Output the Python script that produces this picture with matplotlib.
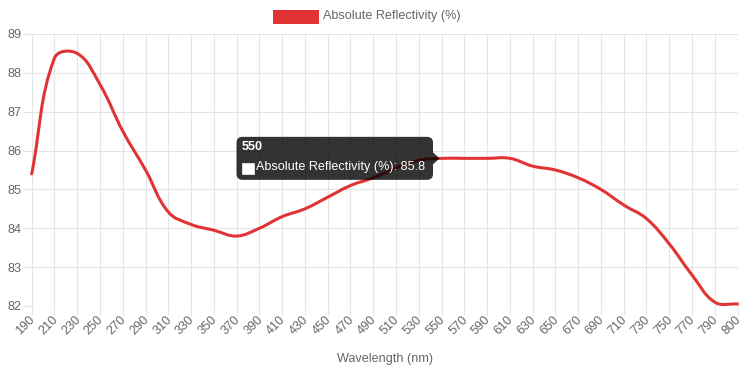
import matplotlib
matplotlib.use('Agg')
import matplotlib.pyplot as plt
import numpy as np
from matplotlib.path import Path
from matplotlib.patches import PathPatch, FancyBboxPatch, Rectangle, Polygon
import matplotlib.transforms as mtransforms

plt.rcParams['font.family'] = ['Liberation Sans', 'DejaVu Sans']

# ---- data ----
wavelength_labels = ['190', '210', '230', '250', '270', '290', '310', '330', '350', '370',
                     '390', '410', '430', '450', '470', '490', '510', '530', '550', '570',
                     '590', '610', '630', '650', '670', '690', '710', '730', '750', '770',
                     '790', '800']
reflectivity = [85.4, 88.38, 88.5, 87.7, 86.5, 85.5, 84.42, 84.1, 83.95, 83.8,
                84.0, 84.3, 84.5, 84.8, 85.1, 85.3, 85.55, 85.75, 85.8, 85.8,
                85.8, 85.8, 85.6, 85.5, 85.3, 85.0, 84.6, 84.25, 83.6, 82.8,
                82.1, 82.05]
series_label = 'Absolute Reflectivity (%)'
y_ticks = [82, 83, 84, 85, 86, 87, 88, 89]
x_title = 'Wavelength (nm)'
tooltip_label = '550'

LINE_COLOR = '#e03434'
GRID = '#e5e5e5'
TXT = '#666666'
FS = 9.1

W, H = 745, 372
fig = plt.figure(figsize=(W / 100, H / 100), dpi=100)
left, right, top, bottom = 31.7, 737.5, 34.0, 306.0
ax = fig.add_axes([left / W, 1 - bottom / H, (right - left) / W, (bottom - top) / H])

n = len(reflectivity)
xs = np.arange(n)
ax.set_xlim(0, n - 1)
ax.set_ylim(y_ticks[0], y_ticks[-1])
ax.set_xticks(xs)
ax.set_xticklabels(wavelength_labels, rotation=45, ha='right', va='center',
                   rotation_mode='anchor', fontsize=FS, color=TXT)
ax.set_yticks(y_ticks)
ax.set_yticklabels([str(v) for v in y_ticks], fontsize=FS, color=TXT)
ax.tick_params(axis='both', length=6.5, width=0.8, color=GRID, direction='out')
ax.tick_params(axis='y', pad=1.0)
ax.tick_params(axis='x', pad=2.0)
offset = mtransforms.ScaledTranslation(1.5 / 100, 0, fig.dpi_scale_trans)
for lab in ax.get_xticklabels():
    lab.set_transform(lab.get_transform() + offset)
ax.grid(True, color=GRID, linewidth=0.8)
for s in ax.spines.values():
    s.set_visible(False)
ax.set_axisbelow(True)

# ---- Chart.js-like spline (tension 0.4) computed in pixel space ----
pts = ax.transData.transform(np.column_stack([xs, reflectivity]))
t = 0.4
cp_prev = np.zeros_like(pts)
cp_next = np.zeros_like(pts)
for i in range(n):
    cur = pts[i]
    prev = pts[i - 1] if i > 0 else cur
    nxt = pts[i + 1] if i < n - 1 else cur
    d01 = np.hypot(*(cur - prev))
    d12 = np.hypot(*(nxt - cur))
    tot = d01 + d12
    s01 = d01 / tot if tot else 0
    s12 = d12 / tot if tot else 0
    cp_prev[i] = cur - t * s01 * (nxt - prev)
    cp_next[i] = cur + t * s12 * (nxt - prev)
verts = [pts[0]]
codes = [Path.MOVETO]
for i in range(n - 1):
    verts += [cp_next[i], cp_prev[i + 1], pts[i + 1]]
    codes += [Path.CURVE4] * 3
verts = ax.transData.inverted().transform(np.array(verts))
ax.add_patch(PathPatch(Path(verts, codes), facecolor='none', edgecolor=LINE_COLOR,
                       linewidth=2.2, capstyle='round', joinstyle='round',
                       clip_on=False, zorder=3))

ident = mtransforms.IdentityTransform()

# ---- legend ----
fig.patches.append(Rectangle((272.5, H - 24), 46, 14.5, facecolor=LINE_COLOR,
                             edgecolor='none', transform=ident, figure=fig))
fig.text(323 / W, 1 - 16.5 / H, series_label, fontsize=FS, color=TXT,
         ha='left', va='center')

# ---- axis title ----
fig.text((left + right) / 2 / W, 1 - 359 / H, x_title, fontsize=FS, color=TXT,
         ha='center', va='center')

# ---- tooltip ----
ti = wavelength_labels.index(tooltip_label)
tv = reflectivity[ti]
px, py = ax.transData.transform((ti, tv))
bright = px - 8.5
bwidth = 196.5
bh = 43.0
bleft = bright - bwidth
btop = py + bh / 2
tip = FancyBboxPatch((bleft, py - bh / 2), bwidth, bh,
                     boxstyle='round,pad=0,rounding_size=6',
                     facecolor=(0, 0, 0, 0.8), edgecolor='none',
                     transform=ident, figure=fig, zorder=10)
fig.patches.append(tip)
fig.patches.append(Polygon([[bright, py + 6], [px - 2, py], [bright, py - 6]],
                           closed=True, facecolor=(0, 0, 0, 0.8), edgecolor='none',
                           transform=ident, figure=fig, zorder=10))
fig.text((bleft + 5) / W, (btop - 10.5) / H, tooltip_label, fontsize=FS,
         fontweight='bold', color='white', ha='left', va='center', zorder=11)
fig.patches.append(Rectangle((bleft + 5.8, btop - 37.3), 11.5, 11.5, facecolor='white',
                             edgecolor='#dddddd', linewidth=0.7, transform=ident,
                             figure=fig, zorder=11))
fig.text((bleft + 19.5) / W, (btop - 30) / H, f'{series_label}: {tv}', fontsize=FS,
         color='white', ha='left', va='center', zorder=11)

fig.savefig('out.png', dpi=100)
